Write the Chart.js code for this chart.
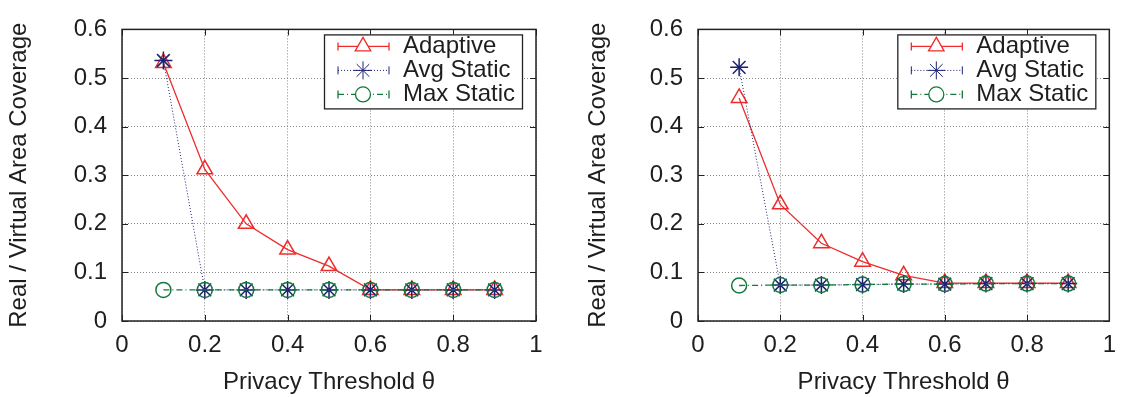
<!DOCTYPE html>
<html>
<head>
<meta charset="utf-8">
<script src="https://cdn.jsdelivr.net/npm/chart.js@4/dist/chart.umd.min.js"></script>
<style>
  html, body { margin: 0; padding: 0; background: #fff; }
  #wrap { position: relative; width: 1126px; height: 397px; }
  .pane { position: absolute; top: 0; width: 563px; height: 397px; }
</style>
</head>
<body>
<div id="wrap">
  <div class="pane" style="left:0"><canvas id="chart-1" width="563" height="397"></canvas></div>
  <div class="pane" style="left:563px"><canvas id="chart-2" width="563" height="397"></canvas></div>
</div>
<script>
const thresholds = [0.1, 0.2, 0.3, 0.4, 0.5, 0.6, 0.7, 0.8, 0.9];
const seriesNames = ['Adaptive', 'Avg Static', 'Max Static'];

// left plot
const adaptiveA = [0.531, 0.312, 0.200, 0.147, 0.113, 0.064, 0.064, 0.064, 0.064];
const avgStaticA = [0.536, 0.064, 0.064, 0.064, 0.064, 0.064, 0.064, 0.064, 0.064];
const maxStaticA = [0.064, 0.064, 0.064, 0.064, 0.064, 0.064, 0.064, 0.064, 0.064];

// right plot
const adaptiveB = [0.459, 0.240, 0.160, 0.122, 0.094, 0.078, 0.078, 0.078, 0.078];
const avgStaticB = [0.522, 0.074, 0.074, 0.075, 0.076, 0.076, 0.077, 0.077, 0.077];
const maxStaticB = [0.073, 0.074, 0.074, 0.075, 0.076, 0.076, 0.077, 0.077, 0.077];

const xTicks = [0, 0.2, 0.4, 0.6, 0.8, 1];
const yTicks = [0, 0.1, 0.2, 0.3, 0.4, 0.5, 0.6];

const FONT = '"Liberation Sans", Arial, Helvetica, sans-serif';
const FSIZE = 24;
const TEXT = '#1e1e1e';

const styles = [
  { color: '#ee2c2c', dash: [], width: 1.3, point: 'triangle', radius: 9, order: 3 },
  { color: '#1c2270', dash: [1, 2], width: 1, point: 'star', radius: 9, order: 2 },
  { color: '#13783c', dash: [6, 3, 1, 3], width: 1.3, point: 'circle', radius: 7.5, order: 1 }
];

function pts(ys) {
  return thresholds.map((x, i) => ({ x: x, y: ys[i] }));
}

// box around the plot plus gnuplot-style inward tics on all four sides
const frame = {
  id: 'frame',
  afterDatasetsDraw(chart) {
    const { ctx, chartArea: a, scales } = chart;
    ctx.save();
    ctx.strokeStyle = '#222';
    ctx.lineWidth = 1;
    ctx.setLineDash([]);
    ctx.beginPath();
    xTicks.forEach(v => {
      const px = Math.round(scales.x.getPixelForValue(v)) + 0.5;
      ctx.moveTo(px, a.bottom); ctx.lineTo(px, a.bottom - 6);
      ctx.moveTo(px, a.top); ctx.lineTo(px, a.top + 6);
    });
    yTicks.forEach(v => {
      const py = Math.round(scales.y.getPixelForValue(v)) + 0.5;
      ctx.moveTo(a.left, py); ctx.lineTo(a.left + 6, py);
      ctx.moveTo(a.right, py); ctx.lineTo(a.right - 6, py);
    });
    ctx.stroke();
    ctx.lineWidth = 1.5;
    ctx.strokeRect(a.left, a.top, a.right - a.left, a.bottom - a.top);
    ctx.restore();
  }
};

// key box in the upper right corner, drawn from the dataset styles
const keyBox = {
  id: 'keyBox',
  afterDraw(chart) {
    const { ctx, chartArea: a } = chart;
    const left = a.right - 212, top = a.top + 5, w = 198, h = 74;
    ctx.save();
    ctx.fillStyle = '#fff';
    ctx.fillRect(left, top, w, h);
    ctx.strokeStyle = '#222';
    ctx.lineWidth = 1.3;
    ctx.setLineDash([]);
    ctx.strokeRect(left + 0.5, top + 0.5, w, h);
    chart.data.datasets.forEach((ds, i) => {
      const y = top + 12 + 24 * i;
      const x0 = left + 14, x1 = left + 65;
      ctx.strokeStyle = ds.borderColor;
      ctx.lineWidth = ds.borderWidth;
      ctx.setLineDash(ds.borderDash);
      ctx.beginPath();
      ctx.moveTo(x0, y); ctx.lineTo(x1, y);
      ctx.stroke();
      ctx.setLineDash([]);
      ctx.beginPath();
      ctx.moveTo(x0, y - 4); ctx.lineTo(x0, y + 4);
      ctx.moveTo(x1, y - 4); ctx.lineTo(x1, y + 4);
      ctx.stroke();
      ctx.fillStyle = '#fff';
      Chart.helpers.drawPoint(ctx, {
        pointStyle: ds.pointStyle, radius: ds.pointRadius, borderWidth: ds.pointBorderWidth, rotation: 0
      }, left + 39, y);
      ctx.fillStyle = TEXT;
      ctx.font = FSIZE + 'px ' + FONT;
      ctx.textBaseline = 'middle';
      ctx.textAlign = 'left';
      ctx.fillText(ds.label, left + 79, y);
    });
    ctx.restore();
  }
};

function makeChart(el, series, pad) {
  return new Chart(el, {
    type: 'line',
    data: {
      datasets: series.map((ys, i) => ({
        label: seriesNames[i],
        data: pts(ys),
        borderColor: styles[i].color,
        borderWidth: styles[i].width,
        borderDash: styles[i].dash,
        pointStyle: styles[i].point,
        pointRadius: styles[i].radius,
        pointBorderWidth: 1.5,
        pointBorderColor: styles[i].color,
        pointBackgroundColor: 'rgba(0,0,0,0)',
        order: styles[i].order,
        fill: false,
        tension: 0
      }))
    },
    options: {
      responsive: false,
      animation: false,
      devicePixelRatio: 1,
      layout: { padding: { left: 0, top: pad.top, right: pad.right, bottom: 0 } },
      plugins: { legend: { display: false }, tooltip: { enabled: false } },
      scales: {
        x: {
          type: 'linear', min: 0, max: 1,
          afterBuildTicks: s => { s.ticks = xTicks.map(v => ({ value: v })); },
          afterFit: s => { s.height = 76; },
          ticks: { color: TEXT, font: { family: FONT, size: FSIZE }, padding: 10, maxRotation: 0,
                   callback: v => String(+v.toFixed(1)) },
          grid: { color: '#888', drawTicks: false, lineWidth: 1 },
          border: { display: false, dash: [1, 2] },
          title: { display: true, text: 'Privacy Threshold θ', color: TEXT,
                   font: { family: FONT, size: FSIZE }, padding: { top: 0, bottom: 0 } }
        },
        y: {
          type: 'linear', min: 0, max: 0.6,
          afterBuildTicks: s => { s.ticks = yTicks.map(v => ({ value: v })); },
          afterFit: s => { s.width = pad.yWidth; },
          ticks: { color: TEXT, font: { family: FONT, size: FSIZE }, padding: 15,
                   callback: v => String(+v.toFixed(1)) },
          grid: { color: '#888', drawTicks: false, lineWidth: 1 },
          border: { display: false, dash: [1, 2] },
          title: { display: true, text: 'Real / Virtual Area Coverage', color: TEXT,
                   font: { family: FONT, size: FSIZE }, padding: { top: pad.title, bottom: 0 } }
        }
      }
    },
    plugins: [frame, keyBox]
  });
}

makeChart(document.getElementById('chart-1'), [adaptiveA, avgStaticA, maxStaticA],
  { top: 17, right: 27, yWidth: 122, title: 4.5 });
makeChart(document.getElementById('chart-2'), [adaptiveB, avgStaticB, maxStaticB],
  { top: 19, right: 12, yWidth: 135, title: 21 });
</script>
</body>
</html>
